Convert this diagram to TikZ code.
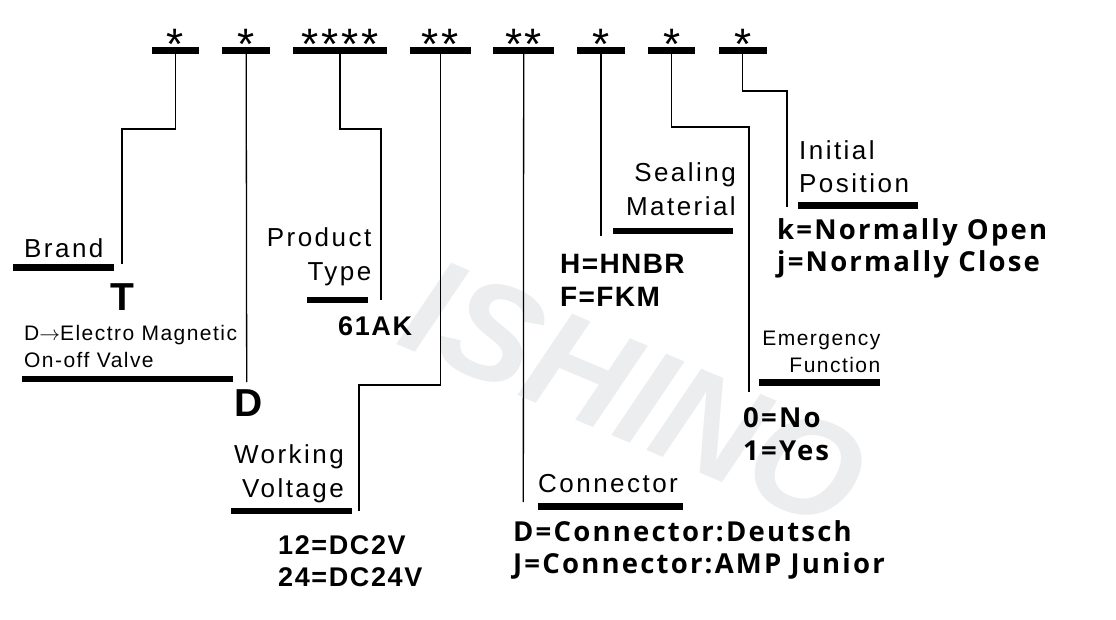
\documentclass[tikz,border=0pt]{standalone}
\usepackage{fontspec}
\setmainfont{Liberation Sans}
\newfontfamily\valuefont{Open Sans}
\definecolor{markgray}{RGB}{236,237,239}

\begin{document}
\begin{tikzpicture}[
    x=1pt, y=-1pt,
    font=\fontsize{26}{33.5}\selectfont\addfontfeatures{LetterSpace=9.5},
    wire/.style={line width=1.3pt},
    codebar/.style={fill=black, inner sep=0pt, minimum height=6.5pt},
    code/.style={inner sep=0pt, anchor=base, font=\fontsize{44}{44}\selectfont\addfontfeatures{LetterSpace=6}},
    title/.style={inner sep=0pt, align=left},
    subtitle/.style={inner sep=0pt, align=left, font=\fontsize{21}{26.8}\selectfont\addfontfeatures{LetterSpace=7}},
    big/.style={inner sep=0pt, anchor=base, font=\bfseries\fontsize{39}{39}\selectfont},
    value/.style={inner sep=0pt, align=left, anchor=base west, font=\bfseries\fontsize{27}{32.7}\selectfont\addfontfeatures{LetterSpace=6}},
    option/.style={inner sep=0pt, align=left, anchor=base west, font=\valuefont\bfseries\fontsize{27.5}{32.4}\selectfont\addfontfeatures{LetterSpace=8}},
    watermark/.style={inner sep=0pt, text=markgray, font=\bfseries\itshape\fontsize{140}{140}\selectfont}
]
    \useasboundingbox (0,0) rectangle (1116,619);

    % Watermark
    \node[watermark, rotate=-23] (wm) at (635,393) {ISHINO};

    % Code positions
    \node[codebar, minimum width=47.6pt] (s1) at (175.5,50.5) {};
    \node[codebar, minimum width=47.7pt] (s2) at (246.2,50.5) {};
    \node[codebar, minimum width=93.4pt] (s3) at (340,50.5) {};
    \node[codebar, minimum width=60.7pt] (s4) at (440.3,50.5) {};
    \node[codebar, minimum width=60.7pt] (s5) at (523.7,50.5) {};
    \node[codebar, minimum width=47.5pt] (s6) at (601,50.5) {};
    \node[codebar, minimum width=46.7pt] (s7) at (671.7,50.5) {};
    \node[codebar, minimum width=47.7pt] (s8) at (742.8,50.5) {};

    \node[code] (c1) at (175.5,59.6) {*};
    \node[code] (c2) at (246.2,59.6) {*};
    \node[code] (c3) at (340,59.6) {****};
    \node[code] (c4) at (440.3,59.6) {**};
    \node[code] (c5) at (523.7,59.6) {**};
    \node[code] (c6) at (601,59.6) {*};
    \node[code] (c7) at (671.7,59.6) {*};
    \node[code] (c8) at (742.8,59.6) {*};

    % Brand
    \node[codebar, minimum width=101.3pt] (brandbar) at (63.3,267.7) {};
    \node[title, anchor=base west] (brand) at (24,257) {Brand};
    \node[big] (brandval) at (122.5,310) {T};

    % Valve type
    \node[codebar, minimum width=211.6pt] (typebar) at (127.5,379) {};
    \node[subtitle, anchor=base west] (type) at (24,367.7) {D$\rightarrow$Electro Magnetic\\On-off Valve};
    \node[big] (typeval) at (248.3,416) {D};

    % Product type
    \node[codebar, minimum width=60.4pt, minimum height=6pt] (prodbar) at (337.5,299.7) {};
    \node[title, align=right, anchor=base east] (prod) at (371.5,280) {Product\\Type};
    \node[value] (prodval) at (338,335) {61AK};

    % Working voltage
    \node[codebar, minimum width=120.7pt, minimum height=6pt] (voltbar) at (291.3,511) {};
    \node[title, align=right, anchor=base east] (volt) at (344,497) {Working\\Voltage};
    \node[value] (voltval) at (278,586.7) {12=DC2V\\24=DC24V};

    % Connector
    \node[codebar, minimum width=144.7pt] (conbar) at (610.3,506.5) {};
    \node[title, anchor=base west] (con) at (538,492.7) {Connector};
    \node[option, font=\valuefont\bfseries\fontsize{27.5}{31.3}\selectfont\addfontfeatures{LetterSpace=8}] (conval) at (513,573) {D=Connector:Deutsch\\J=Connector:AMP Junior};

    % Sealing material
    \node[codebar, minimum width=120pt] (sealbar) at (672.7,231) {};
    \node[title, align=right, anchor=base east] (seal) at (736,215) {Sealing\\Material};
    \node[value, font=\bfseries\fontsize{28}{33}\selectfont\addfontfeatures{LetterSpace=5}] (sealval) at (560,306) {H=HNBR\\F=FKM};

    % Emergency function
    \node[codebar, minimum width=121pt] (emerbar) at (819.5,382.3) {};
    \node[subtitle, align=right, anchor=base east] (emer) at (880.5,372.3) {Emergency\\Function};
    \node[option] (emerval) at (743,460) {0=No\\1=Yes};

    % Initial position
    \node[codebar, minimum width=120pt] (initbar) at (857.7,205.3) {};
    \node[title, anchor=base west] (init) at (799,192.7) {Initial\\Position};
    \node[option] (initval) at (777,271.7) {k=Normally Open\\j=Normally Close};

    % Wire ends
    \coordinate (e1) at (122,264);
    \coordinate (e2) at (246.7,382);
    \coordinate (e3) at (381,300);
    \coordinate (e4) at (359,511);
    \coordinate (e5) at (523.3,502);
    \coordinate (e6) at (601,236);
    \coordinate (e7) at (749,392);
    \coordinate (e8) at (787,207);

    % Wires
    \draw[wire] (s1.south) |- (150,129) -| (e1);
    \draw[wire] (s2.south) -- (e2);
    \draw[wire] (s3.south) |- (360,129) -| (e3);
    \draw[wire] (s4.south) |- (400,385) -| (e4);
    \draw[wire] (s5.south) -- (e5);
    \draw[wire] (s6.south) -- (e6);
    \draw[wire] (s7.south) |- (710,127) -| (e7);
    \draw[wire] (s8.south) |- (765,91) -| (e8);
\end{tikzpicture}
\end{document}
